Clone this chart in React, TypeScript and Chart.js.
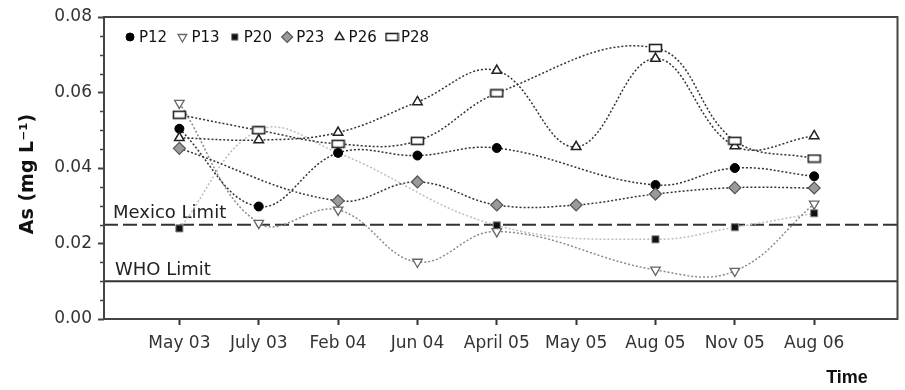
import React, { useEffect, useRef } from 'react';
import { Chart, registerables } from 'chart.js';
import { drawPoint } from 'chart.js/helpers';

Chart.register(...registerables);

// ---- Data ----
const categories = ['May 03', 'July 03', 'Feb 04', 'Jun 04', 'April 05', 'May 05', 'Aug 05', 'Nov 05', 'Aug 06'];
const seriesNames = ['P12', 'P13', 'P20', 'P23', 'P26', 'P28'];
const P12 = [0.0504, 0.0298, 0.0440, 0.0433, 0.0453, null, 0.0355, 0.0400, 0.0378];
const P13 = [0.0572, 0.0254, 0.0289, 0.0151, 0.0232, null, 0.0130, 0.0127, 0.0305];
const P20 = [0.0240, 0.0500, 0.0440, null, 0.0248, null, 0.0211, 0.0243, 0.0280];
const P23 = [0.0452, null, 0.0313, 0.0363, 0.0302, 0.0302, 0.0331, 0.0348, 0.0347];
const P26 = [0.0480, 0.0474, 0.0494, 0.0575, 0.0658, 0.0456, 0.0690, 0.0458, 0.0485];
const P28 = [0.0541, 0.0500, 0.0464, 0.0472, 0.0598, null, 0.0718, 0.0472, 0.0425];
const yTickValues = [0, 0.02, 0.04, 0.06, 0.08];
const MEXICO_LIMIT = 0.025;
const WHO_LIMIT = 0.01;

const toPoints = (arr: (number | null)[]) => arr.map((v, i) => ({ x: i + 1, y: v }));

function makeRectImage(): HTMLCanvasElement {
  const c = document.createElement('canvas');
  c.width = 15;
  c.height = 10;
  const g = c.getContext('2d')!;
  g.fillStyle = '#fff';
  g.fillRect(1, 1, 13, 8);
  g.strokeStyle = '#222';
  g.lineWidth = 1.6;
  g.strokeRect(1.5, 1.5, 12, 7);
  return c;
}

const FONT = '"DejaVu Sans", "Liberation Sans", Arial, sans-serif';

const decorPlugin = {
  id: 'decor',
  beforeDatasetsDraw(chart: any) {
    const { ctx, chartArea: a, scales } = chart;
    const y = scales.y;
    ctx.save();
    // minor ticks on y axis
    ctx.strokeStyle = '#444';
    ctx.lineWidth = 1.5;
    for (let v = 0.005; v < 0.08; v += 0.005) {
      if (Math.abs(v / 0.02 - Math.round(v / 0.02)) < 1e-6) continue;
      const py = Math.round(y.getPixelForValue(v)) + 0.5;
      ctx.beginPath();
      ctx.moveTo(a.left - 4, py);
      ctx.lineTo(a.left, py);
      ctx.stroke();
    }
    // limit lines
    ctx.strokeStyle = '#333';
    ctx.lineWidth = 2;
    const ym = y.getPixelForValue(MEXICO_LIMIT);
    ctx.setLineDash([14, 5]);
    ctx.beginPath();
    ctx.moveTo(a.left, ym);
    ctx.lineTo(a.right, ym);
    ctx.stroke();
    ctx.setLineDash([]);
    const yw = y.getPixelForValue(WHO_LIMIT);
    ctx.beginPath();
    ctx.moveTo(a.left, yw);
    ctx.lineTo(a.right, yw);
    ctx.stroke();
    ctx.fillStyle = '#222';
    ctx.font = `18px ${FONT}`;
    ctx.textAlign = 'left';
    ctx.textBaseline = 'alphabetic';
    ctx.fillText('Mexico Limit', a.left + 9, ym - 7);
    ctx.fillText('WHO Limit', a.left + 11, yw - 6);
    ctx.restore();
  },
  afterDraw(chart: any) {
    const { ctx, chartArea: a } = chart;
    ctx.save();
    // frame
    ctx.strokeStyle = '#444';
    ctx.lineWidth = 2;
    ctx.strokeRect(a.left, a.top, a.right - a.left, a.bottom - a.top);

    // legend inside plot
    const cy = a.top + 20;
    chart.data.datasets.forEach((ds: any, i: number) => {
      const cx = a.left + 26 + i * 52.4;
      ctx.fillStyle = ds.pointBackgroundColor;
      ctx.strokeStyle = ds.pointBorderColor;
      ctx.lineWidth = ds.pointBorderWidth;
      drawPoint(ctx, {
        pointStyle: ds.pointStyle,
        rotation: ds.pointRotation || 0,
        radius: ds.legendRadius,
        borderWidth: ds.pointBorderWidth,
      } as any, cx, cy);
      ctx.fillStyle = '#111';
      ctx.font = `15px ${FONT}`;
      ctx.textAlign = 'left';
      ctx.textBaseline = 'middle';
      ctx.fillText(ds.label, cx + 9, cy + 1);
    });

    // axis titles
    ctx.fillStyle = '#111';
    ctx.font = `bold 19px ${FONT}`;
    ctx.textAlign = 'center';
    ctx.textBaseline = 'middle';
    ctx.save();
    ctx.translate(28, (a.top + a.bottom) / 2 + 6);
    ctx.rotate(-Math.PI / 2);
    ctx.fillText('As (mg L\u207B\u00B9)', 0, 0);
    ctx.restore();
    ctx.font = 'bold 18px "Liberation Sans", Arial, sans-serif';
    ctx.fillText('Time', 847, 378);
    ctx.restore();
  },
};

export default function App() {
  const ref = useRef<HTMLCanvasElement | null>(null);

  useEffect(() => {
    document.body.style.margin = '0';
    const rectImg = makeRectImage();
    const line = { borderDash: [2, 2], borderWidth: 1.5, tension: 0.4, spanGaps: true, fill: false };
    const datasets: any[] = [
      {
        ...line, label: seriesNames[0], data: toPoints(P12), borderColor: '#333',
        pointStyle: 'circle', pointRadius: 4.5, legendRadius: 4, pointBackgroundColor: '#000',
        pointBorderColor: '#000', pointBorderWidth: 1, order: 3,
      },
      {
        ...line, label: seriesNames[1], data: toPoints(P13), borderColor: '#8a8a8a',
        pointStyle: 'triangle', pointRotation: 180, pointRadius: 5.5, legendRadius: 5, pointBackgroundColor: '#fff',
        pointBorderColor: '#666', pointBorderWidth: 1.3, order: 4,
      },
      {
        ...line, label: seriesNames[2], data: toPoints(P20), borderColor: '#bdbdbd',
        pointStyle: 'rect', pointRadius: 5, legendRadius: 4.5, pointBackgroundColor: '#111',
        pointBorderColor: '#888', pointBorderWidth: 1, order: 5,
      },
      {
        ...line, label: seriesNames[3], data: toPoints(P23), borderColor: '#333',
        pointStyle: 'rectRot', pointRadius: 6, legendRadius: 5.5, pointBackgroundColor: '#9a9a9a',
        pointBorderColor: '#555', pointBorderWidth: 1.2, order: 2,
      },
      {
        ...line, label: seriesNames[4], data: toPoints(P26), borderColor: '#333',
        pointStyle: 'triangle', pointRadius: 5.5, legendRadius: 5, pointBackgroundColor: '#fff',
        pointBorderColor: '#222', pointBorderWidth: 1.5, order: 1,
      },
      {
        ...line, label: seriesNames[5], data: toPoints(P28), borderColor: '#333',
        pointStyle: rectImg, pointRadius: 6, legendRadius: 6, pointBackgroundColor: '#fff',
        pointBorderColor: '#222', pointBorderWidth: 1.5, order: 0,
      },
    ];

    const chart = new Chart(ref.current!, {
      type: 'line',
      data: { datasets },
      options: {
        animation: false,
        responsive: false,
        devicePixelRatio: 1,
        layout: { padding: { top: 17, right: 2, left: 0, bottom: 0 } },
        plugins: { legend: { display: false }, tooltip: { enabled: false } },
        scales: {
          x: {
            type: 'linear',
            min: 0.05,
            max: 10.05,
            afterBuildTicks: (scale: any) => {
              scale.ticks = categories.map((_, i) => ({ value: i + 1 }));
            },
            afterFit: (scale: any) => {
              scale.height = 71;
            },
            grid: { display: true, drawOnChartArea: false, drawTicks: true, tickLength: 6, tickColor: '#333', tickWidth: 2 },
            border: { display: false },
            ticks: {
              autoSkip: false,
              maxRotation: 0,
              padding: 8,
              color: '#333',
              font: { family: FONT, size: 17 },
              callback: (v: any) => categories[Math.round(v) - 1] ?? '',
            },
          },
          y: {
            type: 'linear',
            min: 0,
            max: 0.08,
            afterBuildTicks: (scale: any) => {
              scale.ticks = yTickValues.map((v) => ({ value: v }));
            },
            afterFit: (scale: any) => {
              scale.width = 104;
            },
            grid: { display: true, drawOnChartArea: false, drawTicks: true, tickLength: 6, tickColor: '#444', tickWidth: 2 },
            border: { display: false },
            ticks: {
              padding: 6,
              color: '#333',
              font: { family: FONT, size: 17 },
              callback: (v: any) => Number(v).toFixed(2),
            },
          },
        },
      } as any,
      plugins: [decorPlugin],
    });
    return () => chart.destroy();
  }, []);

  return <canvas ref={ref} width={905} height={390} style={{ display: 'block', width: 905, height: 390 }} />;
}
